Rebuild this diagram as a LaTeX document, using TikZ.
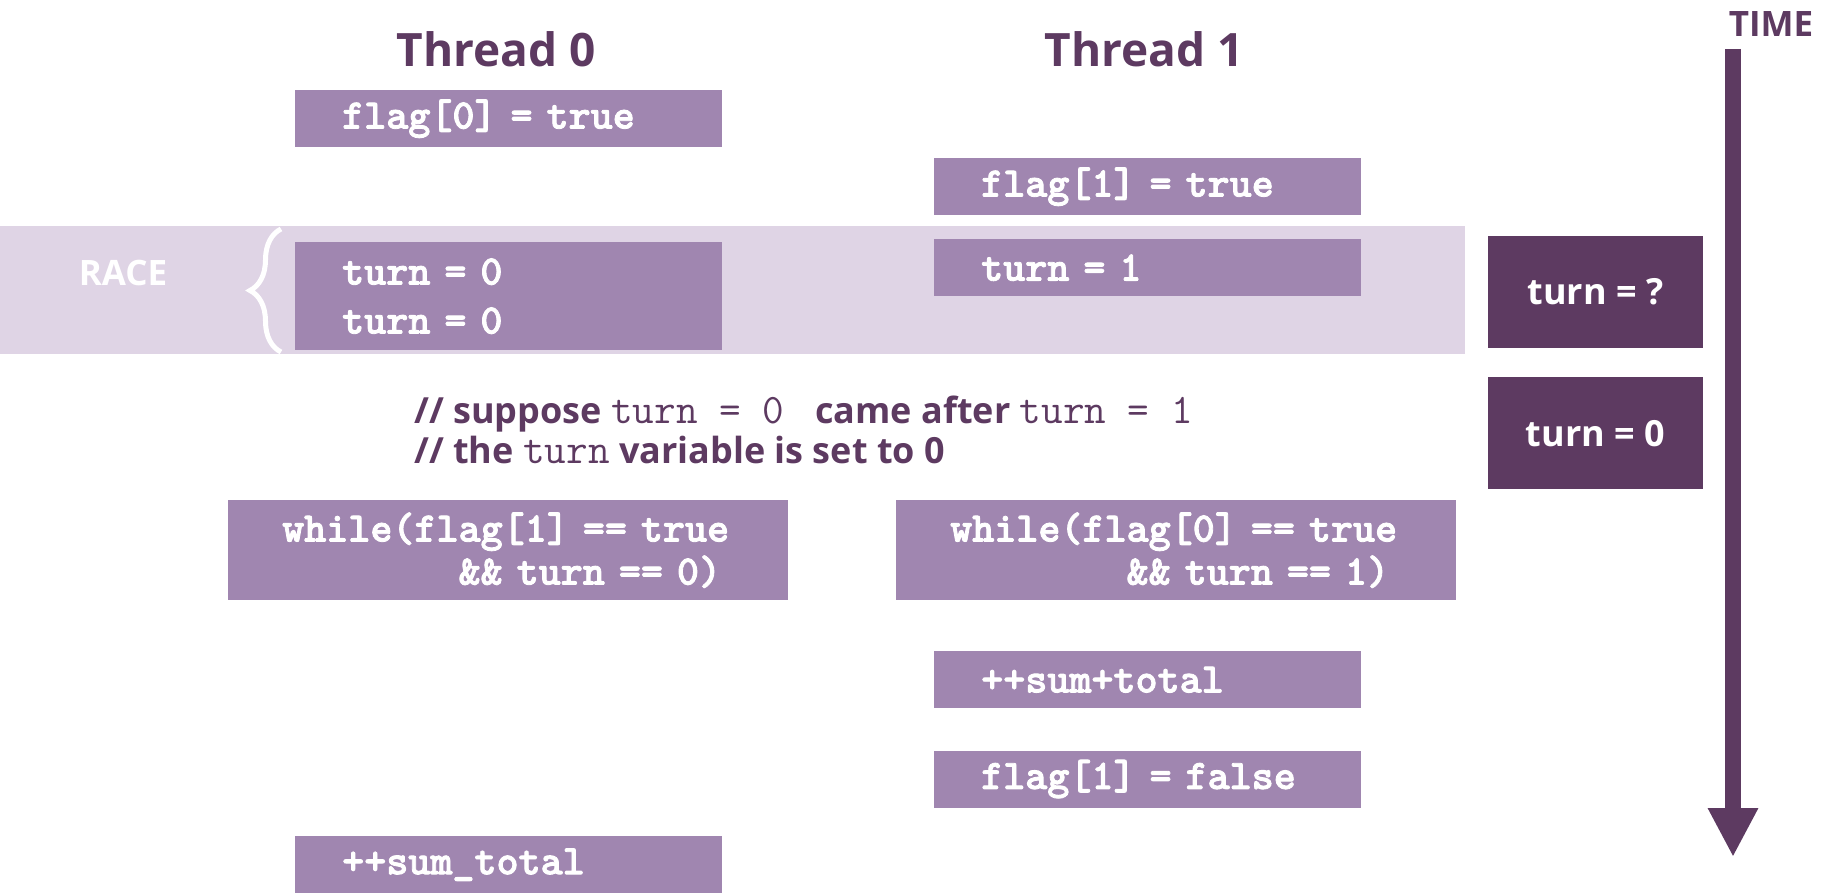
\documentclass[tikz,border=0pt]{standalone}
\usepackage{fontspec}
\setmainfont{Open Sans}
% heavy typewriter face for the statements
\newfontfamily\codefont{lmmonolt10-bold}[Extension=.otf, FakeBold=2]
\usetikzlibrary{positioning,arrows.meta,decorations.pathreplacing}

\definecolor{lilac}{HTML}{A086B0}
\definecolor{plum}{HTML}{5D3A61}
\definecolor{haze}{HTML}{DFD4E5}

% inline code inside the comment lines
\newcommand{\cmt}[1]{{\ttfamily\mdseries\fontsize{42}{42}\selectfont #1}}
% eight blanks of the mono font
\newcommand{\codeindent}{\hspace*{4.2em}}

\tikzset{
  stmt/.style={fill=lilac, text=white, anchor=north west, align=left,
    font=\codefont\fontsize{42}{49}\selectfont,
    inner xsep=47pt, inner ysep=0pt, minimum height=57pt, text width=333pt},
  loopstmt/.style={stmt, inner xsep=54pt, text width=452pt,
    minimum height=100pt, font=\codefont\fontsize{42}{43}\selectfont},
  shared/.style={fill=plum, text=white, font=\bfseries\fontsize{36}{36}\selectfont,
    minimum width=215pt, minimum height=112pt, inner sep=0pt},
  title/.style={text=plum, font=\bfseries\fontsize{46}{46}\selectfont, inner sep=0pt},
  timeline/.style={plum, line width=16pt, -{Triangle[width=47pt,length=49pt]}}
}

\begin{document}
\begin{tikzpicture}[x=1pt,y=-1pt]
   \useasboundingbox (0,0) rectangle (1830,893);

   % the racy region
   \fill[haze] (0,226) rectangle (1465,354);
   \node[text=white, font=\bfseries\fontsize{35}{35}\selectfont] (race) at (123,273) {RACE};
   \draw[white, line width=5pt, decorate,
         decoration={brace, amplitude=31pt, aspect=0.5}] (281,352) -- (281,229);

   \node[title] (t0) at (496,49) {Thread 0};
   \node[title] (t1) at (1144,49) {Thread 1};

   % thread 0
   \node[stmt] (f0true) at (295,90) {flag[0] = true};
   \node[stmt, minimum height=108pt] (turn0) at (295,242) {turn = 0\\turn = 0};
   \node[loopstmt] (while0) at (228,500)
        {\mbox{while(flag[1] == true}\\\mbox{\codeindent\&\& turn == 0)}};
   \node[stmt] (sumtot) at (295,836) {++sum\_total};

   % thread 1
   \node[stmt] (f1true) at (934,158) {flag[1] = true};
   \node[stmt] (turn1) at (934,239) {turn = 1};
   \node[loopstmt] (while1) at (896,500)
        {\mbox{while(flag[0] == true}\\\mbox{\codeindent\&\& turn == 1)}};
   \node[stmt] (sumplus) at (934,651) {++sum+total};
   \node[stmt] (f1false) [below=42pt of sumplus] {\mbox{flag[1] = false}};

   \node[text=plum, anchor=west, align=left, inner sep=0pt,
         font=\bfseries\fontsize{36}{40}\selectfont] (note) at (414,430)
        {// suppose \cmt{turn = 0\ } came after \cmt{turn = 1}\\
         // the \cmt{turn} variable is set to 0};

   % value of turn
   \node[shared] (turnq) at (1595.5,292) {turn = ?};
   \node[shared] (turnz) [below=29pt of turnq] {turn = 0};

   % time axis
   \node[text=plum, font=\bfseries\fontsize{35}{35}\selectfont, inner sep=0pt] (time) at (1771,24) {TIME};
   \coordinate (tstart) at (1733,49);
   \coordinate (tend) at (1733,857);
   \draw[timeline] (tstart) -- (tend);
\end{tikzpicture}
\end{document}
